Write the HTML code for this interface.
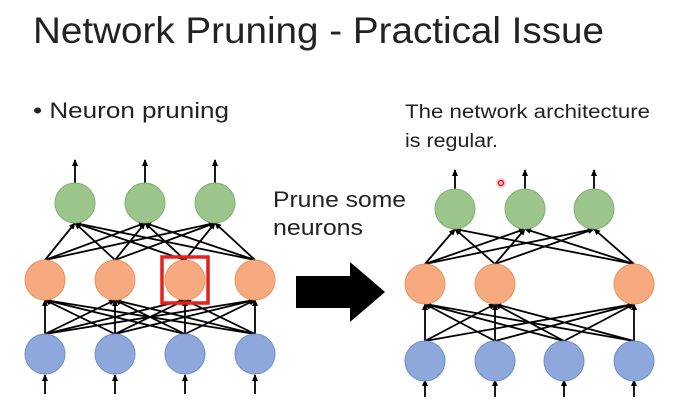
<!DOCTYPE html>
<html><head><meta charset="utf-8"><style>html,body{margin:0;padding:0;background:#fff}svg{display:block}</style></head><body>
<svg width="676" height="409" xmlns="http://www.w3.org/2000/svg" font-family="Liberation Sans, sans-serif">
<defs><marker id="a" markerWidth="7" markerHeight="6" refX="6" refY="3" orient="auto" markerUnits="userSpaceOnUse"><path d="M0,0 L7,3 L0,6 z" fill="#000"/></marker></defs>
<text x="33" y="43" font-size="37" fill="#222" textLength="571" lengthAdjust="spacingAndGlyphs">Network Pruning - Practical Issue</text>
<text x="33" y="118" font-size="22" fill="#222" textLength="196" lengthAdjust="spacingAndGlyphs">• Neuron pruning</text>
<text x="405" y="118" font-size="19" fill="#222" textLength="245" lengthAdjust="spacingAndGlyphs">The network architecture</text>
<text x="405" y="147" font-size="19" fill="#222" textLength="93" lengthAdjust="spacingAndGlyphs">is regular.</text>
<text x="273" y="207" font-size="22" fill="#222" textLength="133" lengthAdjust="spacingAndGlyphs">Prune some</text>
<text x="273" y="235" font-size="22" fill="#222" textLength="90" lengthAdjust="spacingAndGlyphs">neurons</text>
<path d="M296,276 L350,276 L350,262 L385,292 L350,322 L350,308 L296,308 z" fill="#000"/>
<g stroke="#000" stroke-width="1.8" marker-end="url(#a)">
<line x1="75" y1="183" x2="75" y2="160"/><line x1="145" y1="183" x2="145" y2="160"/><line x1="215" y1="183" x2="215" y2="160"/>
<line x1="45" y1="394" x2="45" y2="375"/><line x1="115" y1="394" x2="115" y2="375"/><line x1="185" y1="394" x2="185" y2="375"/><line x1="255" y1="394" x2="255" y2="375"/>
<line x1="45" y1="260" x2="75" y2="223"/><line x1="45" y1="260" x2="145" y2="223"/><line x1="45" y1="260" x2="215" y2="223"/>
<line x1="115" y1="260" x2="75" y2="223"/><line x1="115" y1="260" x2="145" y2="223"/><line x1="115" y1="260" x2="215" y2="223"/>
<line x1="185" y1="260" x2="75" y2="223"/><line x1="185" y1="260" x2="145" y2="223"/><line x1="185" y1="260" x2="215" y2="223"/>
<line x1="255" y1="260" x2="75" y2="223"/><line x1="255" y1="260" x2="145" y2="223"/><line x1="255" y1="260" x2="215" y2="223"/>
<line x1="45" y1="334" x2="45" y2="300"/><line x1="45" y1="334" x2="115" y2="300"/><line x1="45" y1="334" x2="185" y2="300"/><line x1="45" y1="334" x2="255" y2="300"/>
<line x1="115" y1="334" x2="45" y2="300"/><line x1="115" y1="334" x2="115" y2="300"/><line x1="115" y1="334" x2="185" y2="300"/><line x1="115" y1="334" x2="255" y2="300"/>
<line x1="185" y1="334" x2="45" y2="300"/><line x1="185" y1="334" x2="115" y2="300"/><line x1="185" y1="334" x2="185" y2="300"/><line x1="185" y1="334" x2="255" y2="300"/>
<line x1="255" y1="334" x2="45" y2="300"/><line x1="255" y1="334" x2="115" y2="300"/><line x1="255" y1="334" x2="185" y2="300"/><line x1="255" y1="334" x2="255" y2="300"/>
<line x1="455" y1="189" x2="455" y2="170"/><line x1="525" y1="189" x2="525" y2="170"/><line x1="594" y1="189" x2="594" y2="170"/>
<line x1="425" y1="397" x2="425" y2="380"/><line x1="495" y1="397" x2="495" y2="380"/><line x1="564" y1="397" x2="564" y2="380"/><line x1="634" y1="397" x2="634" y2="380"/>
<line x1="425" y1="264" x2="455" y2="229"/><line x1="425" y1="264" x2="525" y2="229"/><line x1="425" y1="264" x2="594" y2="229"/>
<line x1="495" y1="264" x2="455" y2="229"/><line x1="495" y1="264" x2="525" y2="229"/><line x1="495" y1="264" x2="594" y2="229"/>
<line x1="634" y1="264" x2="455" y2="229"/><line x1="634" y1="264" x2="525" y2="229"/><line x1="634" y1="264" x2="594" y2="229"/>
<line x1="425" y1="341" x2="425" y2="304"/><line x1="425" y1="341" x2="495" y2="304"/><line x1="425" y1="341" x2="634" y2="304"/>
<line x1="495" y1="341" x2="425" y2="304"/><line x1="495" y1="341" x2="495" y2="304"/><line x1="495" y1="341" x2="634" y2="304"/>
<line x1="564" y1="341" x2="425" y2="304"/><line x1="564" y1="341" x2="495" y2="304"/><line x1="564" y1="341" x2="634" y2="304"/>
<line x1="634" y1="341" x2="425" y2="304"/><line x1="634" y1="341" x2="495" y2="304"/><line x1="634" y1="341" x2="634" y2="304"/>
</g>
<g stroke-width="1">
<g fill="#9cc58c" stroke="#82b072">
<circle cx="75" cy="203" r="20"/><circle cx="145" cy="203" r="20"/><circle cx="215" cy="203" r="20"/>
<circle cx="455" cy="209" r="20"/><circle cx="525" cy="209" r="20"/><circle cx="594" cy="209" r="20"/>
</g>
<g fill="#f7aa80" stroke="#ec9361">
<circle cx="45" cy="280" r="20"/><circle cx="115" cy="280" r="20"/><circle cx="185" cy="280" r="20"/><circle cx="255" cy="280" r="20"/>
<circle cx="425" cy="284" r="20"/><circle cx="495" cy="284" r="20"/><circle cx="634" cy="284" r="20"/>
</g>
<g fill="#8ea8dc" stroke="#6d8dcd">
<circle cx="45" cy="354" r="20"/><circle cx="115" cy="354" r="20"/><circle cx="185" cy="354" r="20"/><circle cx="255" cy="354" r="20"/>
<circle cx="425" cy="361" r="20"/><circle cx="495" cy="361" r="20"/><circle cx="564" cy="361" r="20"/><circle cx="634" cy="361" r="20"/>
</g>
</g>
<rect x="162" y="257" width="46" height="46" fill="none" stroke="#e8201a" stroke-width="3.5"/>
<circle cx="501" cy="183" r="5" fill="#f6b0b0" opacity="0.7"/><circle cx="501" cy="183" r="2.5" fill="none" stroke="#e00" stroke-width="1.2"/>
</svg>
</body></html>
